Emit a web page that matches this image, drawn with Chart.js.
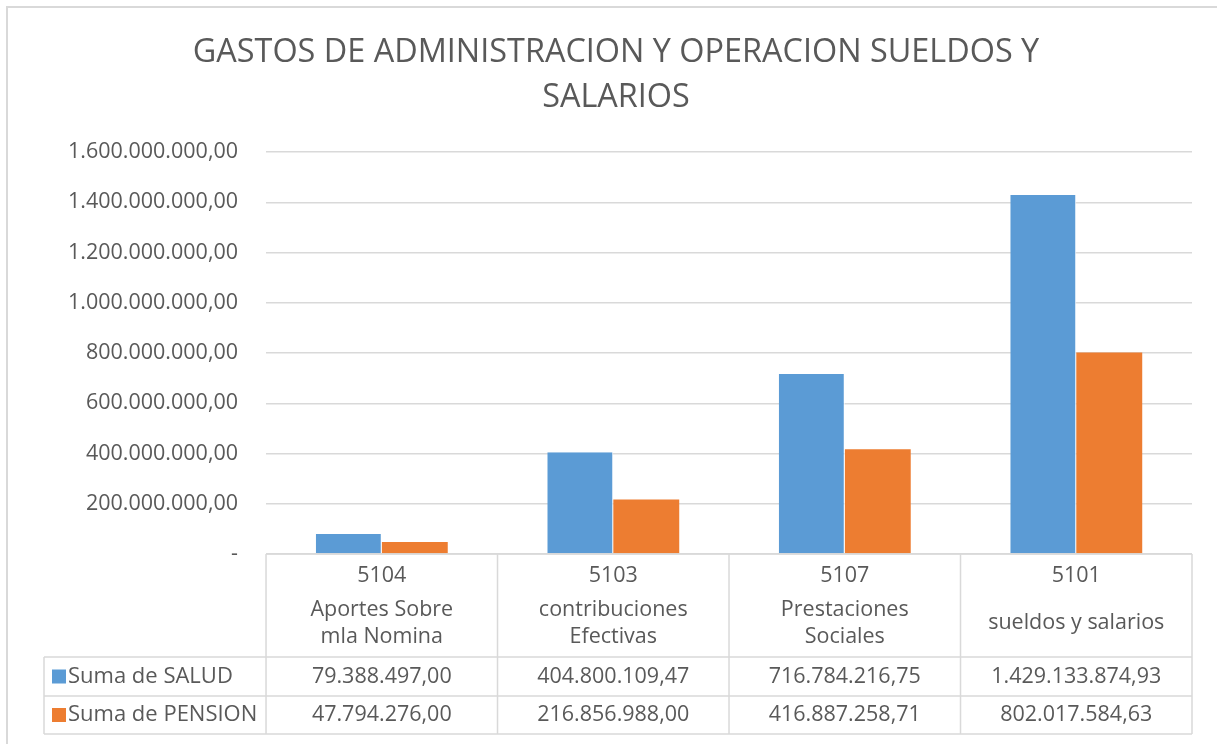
<!DOCTYPE html>
<html>
<head>
<meta charset="utf-8">
<script src="https://cdn.jsdelivr.net/npm/chart.js@4.4.0/dist/chart.umd.min.js"></script>
<style>
  html, body { margin: 0; padding: 0; background: #fff; }
  #wrap { position: relative; width: 1217px; height: 744px; }
</style>
</head>
<body>
<div id="wrap"><canvas id="grafico" width="1217" height="744"></canvas></div>
<script>
// datos del grafico
const codigos = ['5104', '5103', '5107', '5101'];
const nombres = [
  ['Aportes Sobre', 'mla Nomina'],
  ['contribuciones', 'Efectivas'],
  ['Prestaciones', 'Sociales'],
  ['sueldos y salarios']
];
const salud = [79388497.00, 404800109.47, 716784216.75, 1429133874.93];
const pension = [47794276.00, 216856988.00, 416887258.71, 802017584.63];
const nombresSeries = ['Suma de SALUD', 'Suma de PENSION'];
const coloresSeries = ['#5B9BD5', '#ED7D31'];

const fuente = "'Open Sans', 'Noto Sans', sans-serif";
const gris = '#595959';
const linea = '#D9D9D9';

function formatoNumero(v) {
  return v.toLocaleString('de-DE', { minimumFractionDigits: 2, maximumFractionDigits: 2 });
}

// tabla de datos debajo del eje (estilo Excel)
const tablaDatos = {
  id: 'tablaDatos',
  afterDraw(chart) {
    const ctx = chart.ctx;
    const x = chart.scales.x;
    const area = chart.chartArea;
    const n = codigos.length;
    const anchoCat = (area.right - area.left) / n;
    const yTop = area.bottom;
    const yHead = yTop + 103;
    const yFila1 = yHead + 39;
    const yFila2 = yFila1 + 38;
    const xIzq = 44;

    ctx.save();
    ctx.strokeStyle = linea;
    ctx.lineWidth = 1.5;
    ctx.beginPath();
    // bordes horizontales
    ctx.moveTo(area.left, yTop); ctx.lineTo(area.right, yTop);
    ctx.moveTo(xIzq, yHead); ctx.lineTo(area.right, yHead);
    ctx.moveTo(xIzq, yFila1); ctx.lineTo(area.right, yFila1);
    ctx.moveTo(xIzq, yFila2); ctx.lineTo(area.right, yFila2);
    // bordes verticales
    ctx.moveTo(xIzq, yHead); ctx.lineTo(xIzq, yFila2);
    for (let i = 0; i <= n; i++) {
      const xl = area.left + i * anchoCat;
      ctx.moveTo(xl, yTop); ctx.lineTo(xl, yFila2);
    }
    ctx.stroke();

    ctx.fillStyle = gris;
    ctx.font = '21.5px ' + fuente;
    ctx.textAlign = 'center';
    ctx.textBaseline = 'middle';
    for (let i = 0; i < n; i++) {
      const cx = x.getPixelForValue(i);
      ctx.fillText(codigos[i], cx, yTop + 22);
      const lineas = nombres[i];
      const centro = yTop + 69;
      lineas.forEach((t, k) => {
        ctx.fillText(t, cx, centro + (k - (lineas.length - 1) / 2) * 27);
      });
      ctx.fillText(formatoNumero(salud[i]), cx, (yHead + yFila1) / 2);
      ctx.fillText(formatoNumero(pension[i]), cx, (yFila1 + yFila2) / 2);
    }

    // leyenda dentro de la tabla
    ctx.textAlign = 'left';
    ctx.font = '22px ' + fuente;
    const filas = [(yHead + yFila1) / 2, (yFila1 + yFila2) / 2];
    filas.forEach((fy, k) => {
      ctx.fillStyle = coloresSeries[k];
      ctx.fillRect(xIzq + 8, fy - 7, 14, 14);
      ctx.fillStyle = gris;
      ctx.fillText(nombresSeries[k], xIzq + 24, fy);
    });

    // borde exterior del grafico
    ctx.strokeStyle = linea;
    ctx.lineWidth = 2;
    ctx.strokeRect(7, 7, 1230, 760);
    ctx.restore();
  }
};

const ctxGrafico = document.getElementById('grafico').getContext('2d');
const grafico = new Chart(ctxGrafico, {
  type: 'bar',
  data: {
    labels: codigos,
    datasets: [
      {
        label: nombresSeries[0],
        data: salud,
        backgroundColor: coloresSeries[0],
        borderColor: '#ffffff',
        borderWidth: { right: 1 },
        borderSkipped: false
      },
      {
        label: nombresSeries[1],
        data: pension,
        backgroundColor: coloresSeries[1],
        borderWidth: 0
      }
    ]
  },
  options: {
    responsive: false,
    animation: false,
    barPercentage: 1,
    categoryPercentage: 0.57,
    layout: {
      padding: { left: 40, right: 25, top: 0, bottom: 190 }
    },
    plugins: {
      legend: { display: false },
      tooltip: { enabled: false },
      title: {
        display: true,
        text: ['GASTOS DE ADMINISTRACION Y OPERACION SUELDOS Y', 'SALARIOS'],
        color: gris,
        font: { family: fuente, size: 32.4, weight: 'normal', lineHeight: 1.39 },
        padding: { top: 30, bottom: 32 }
      }
    },
    scales: {
      x: {
        ticks: { display: false },
        grid: { display: false, drawTicks: false },
        border: { display: false }
      },
      y: {
        min: 0,
        max: 1600000000,
        ticks: {
          stepSize: 200000000,
          color: gris,
          padding: 28,
          font: { family: fuente, size: 21.5 },
          callback: function (v) {
            return v === 0 ? '-' : formatoNumero(v);
          }
        },
        grid: { color: linea, lineWidth: 1.5, drawTicks: false },
        border: { display: false }
      }
    }
  },
  plugins: [tablaDatos]
});
</script>
</body>
</html>
